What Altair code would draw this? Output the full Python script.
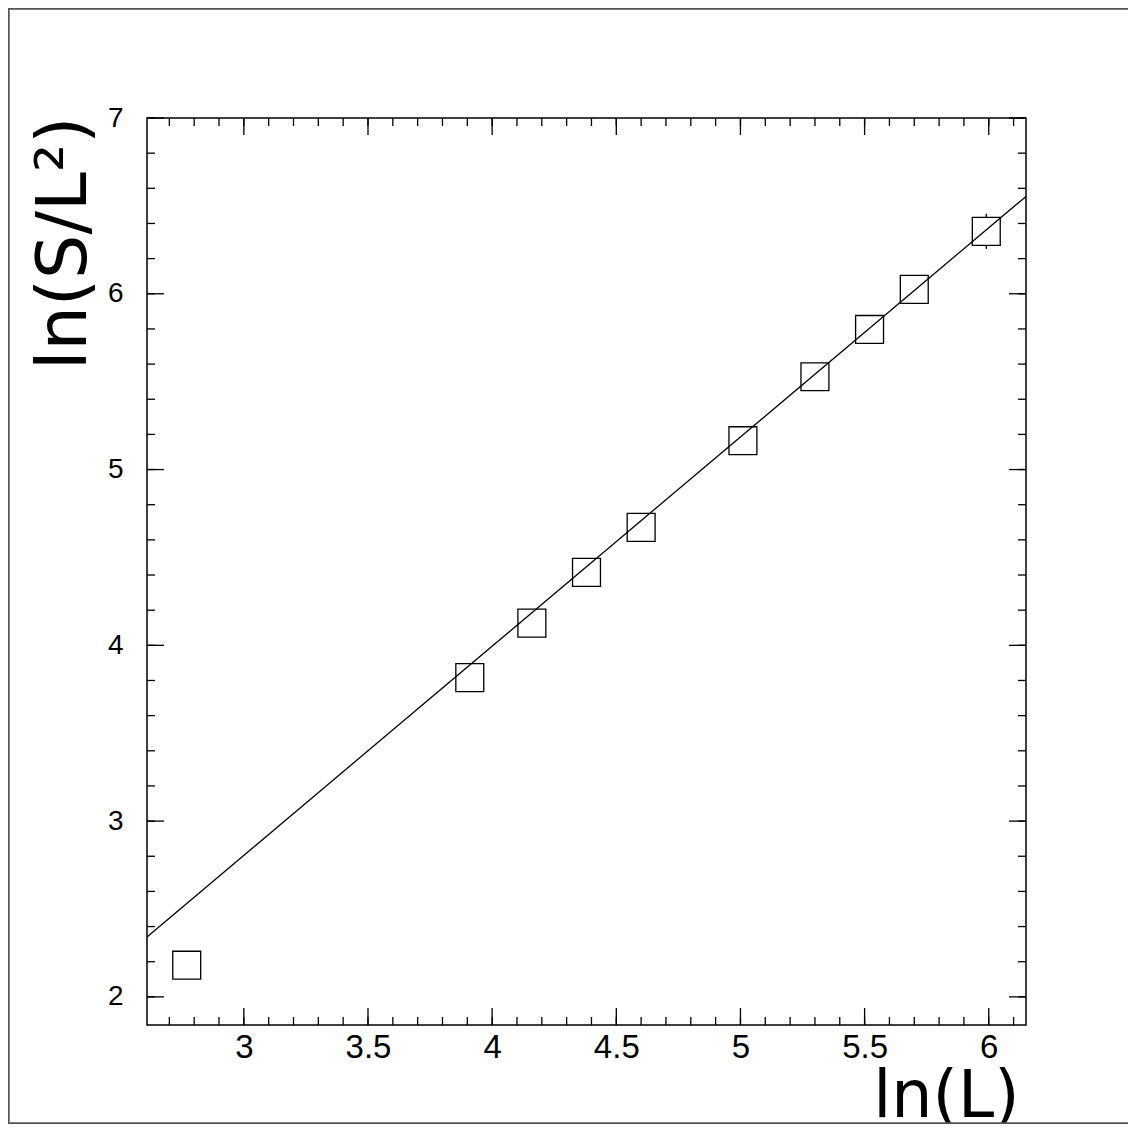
import altair as alt
import pandas as pd

# ---- data ----
ln_L = [2.77, 3.91, 4.16, 4.38, 4.60, 5.01, 5.30, 5.52, 5.70, 5.99]
ln_S_L2 = [2.18, 3.816, 4.126, 4.415, 4.671, 5.164, 5.528, 5.797, 6.025, 6.355]
err = [0, 0, 0, 0, 0, 0, 0, 0, 0, 0.10]

fit_x = [2.61, 6.15]
fit_y = [2.341, 6.554]

x_major = [3, 3.5, 4, 4.5, 5, 5.5, 6]
x_minor = [round(2.7 + 0.1 * i, 1) for i in range(35)]
y_major = [2, 3, 4, 5, 6, 7]
y_minor = [round(2.0 + 0.2 * i, 1) for i in range(26)]

X_DOMAIN = [2.61, 6.15]
Y_DOMAIN = [1.84, 7.0]

W, H = 879, 907

xs = alt.Scale(domain=X_DOMAIN, nice=False, zero=False)
ys = alt.Scale(domain=Y_DOMAIN, nice=False, zero=False)

x_axis = alt.Axis(
    values=x_major, format="~g", ticks=False, tickSize=0, domain=False,
    grid=False, labelFont="Liberation Sans", labelFontSize=33,
    labelColor="black", labelPadding=6, labelFlush=False,
    labelOverlap=False, title="ln(L)", titleFont="DejaVu Sans",
    titleFontSize=65, titleFontWeight="normal", titleColor="black",
    titleX=872, titleY=91, titleAlign="right", titleBaseline="alphabetic",
)
y_axis = alt.Axis(
    values=y_major, format="~g", ticks=False, tickSize=0, domain=False,
    grid=False, labelFont="Liberation Sans", labelFontSize=28,
    labelColor="black", labelPadding=24, labelFlush=False,
    labelOverlap=False, title="ln(S/L²)", titleFont="DejaVu Sans",
    titleFontSize=70, titleFontWeight="normal", titleColor="black",
    titleAngle=270, titleX=-62, titleY=-2, titleAlign="right",
    titleBaseline="alphabetic",
)

pts = pd.DataFrame({"x": ln_L, "y": ln_S_L2,
                    "lo": [v - e for v, e in zip(ln_S_L2, err)],
                    "hi": [v + e for v, e in zip(ln_S_L2, err)]})
fit = pd.DataFrame({"x": fit_x, "y": fit_y})
xmaj = pd.DataFrame({"v": x_major})
xmin = pd.DataFrame({"v": x_minor})
ymaj = pd.DataFrame({"v": y_major})
ymin = pd.DataFrame({"v": y_minor})

TICK = dict(color="black", strokeWidth=1.3)


def X(field):
    return alt.X(field, scale=xs, axis=x_axis)


def Y(field):
    return alt.Y(field, scale=ys, axis=y_axis)


def xticks(df, length):
    bottom = alt.Chart(df).mark_rule(**TICK).encode(
        x=X("v:Q"), y=alt.value(H), y2=alt.value(H - length))
    top = alt.Chart(df).mark_rule(**TICK).encode(
        x=X("v:Q"), y=alt.value(0), y2=alt.value(length))
    return [bottom, top]


def yticks(df, length):
    left = alt.Chart(df).mark_rule(**TICK).encode(
        y=Y("v:Q"), x=alt.value(0), x2=alt.value(length))
    right = alt.Chart(df).mark_rule(**TICK).encode(
        y=Y("v:Q"), x=alt.value(W), x2=alt.value(W - length))
    return [left, right]


# outer canvas frame
frame = alt.Chart(fit).mark_rect(
    fillOpacity=0, stroke="#555555", strokeWidth=1.5
).encode(
    x=alt.value(-138.3), x2=alt.value(1010),
    y=alt.value(-109.3), y2=alt.value(H + 98.3),
)

errbars = alt.Chart(pts).mark_rule(color="black", strokeWidth=1.3).encode(
    x=X("x:Q"), y=Y("lo:Q"), y2="hi:Q",
)

points = alt.Chart(pts).mark_point(
    shape="square", size=780, fill="white", fillOpacity=1,
    stroke="black", strokeWidth=1.3, opacity=1,
).encode(x=X("x:Q"), y=Y("y:Q"))

line = alt.Chart(fit).mark_line(color="black", strokeWidth=1.3).encode(
    x=X("x:Q"), y=Y("y:Q"),
)

layers = [frame]
layers += xticks(xmin, 8) + xticks(xmaj, 17)
layers += yticks(ymin, 8) + yticks(ymaj, 17)
layers += [errbars, points, line]

chart = alt.layer(*layers).properties(
    width=W, height=H,
    autosize=alt.AutoSizeParams(type="none"),
    padding={"left": 139, "top": 110, "right": 102, "bottom": 99},
    background="white",
).configure_view(stroke="black", strokeWidth=1.5)

chart.save("out.html", embed_options={"renderer": "svg", "actions": False})
